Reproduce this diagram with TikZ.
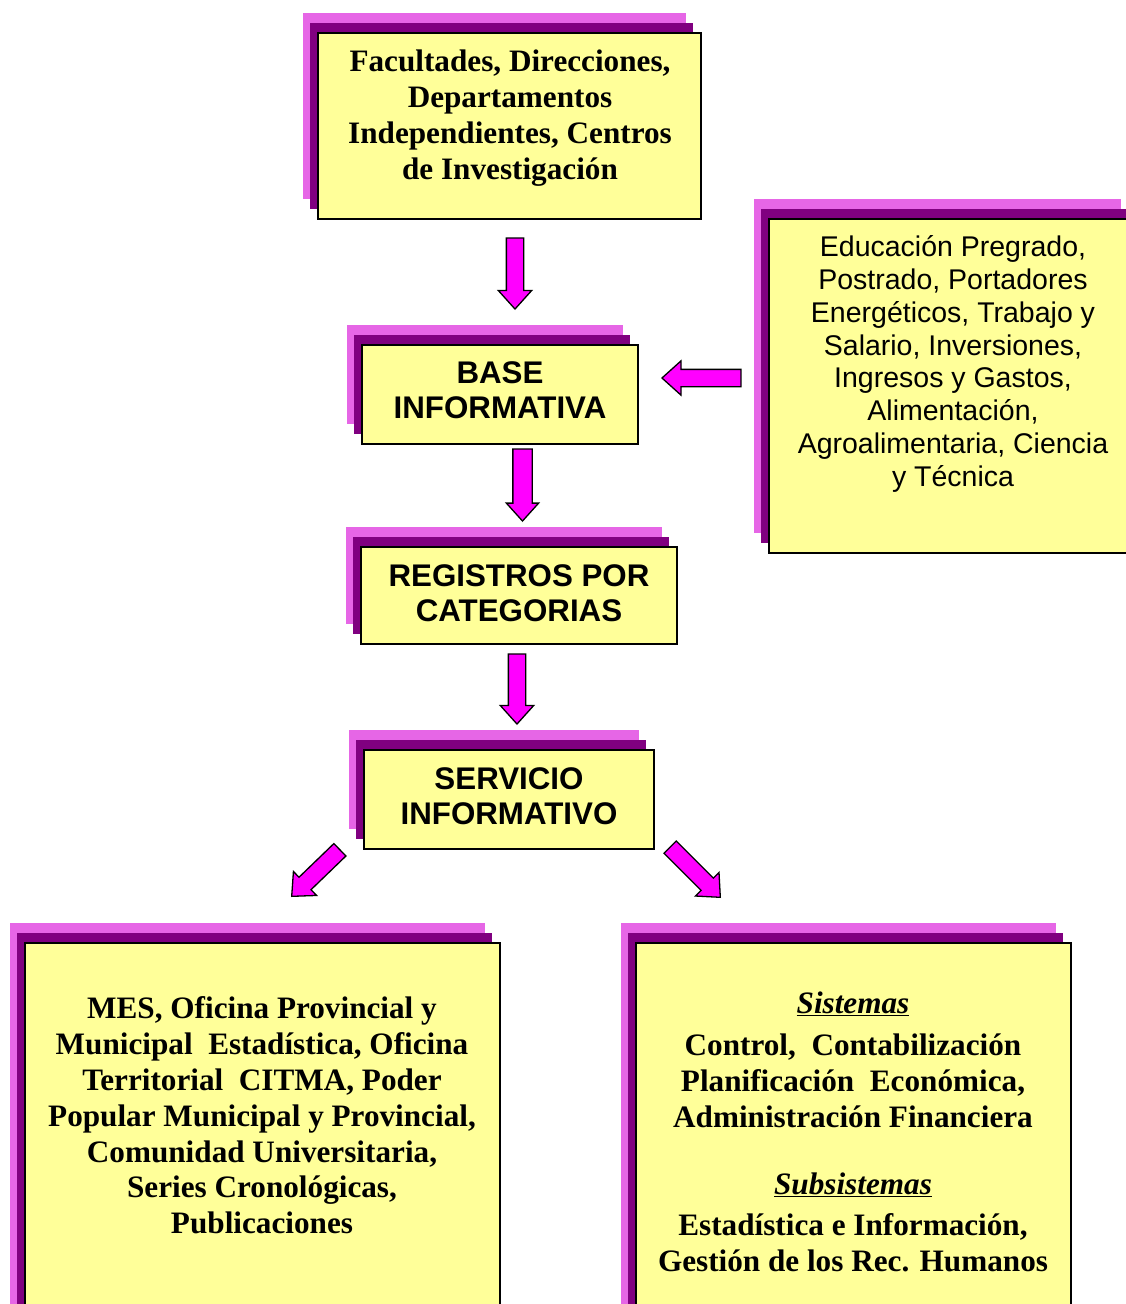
\documentclass[tikz,border=0pt]{standalone}
\usepackage{fontspec}
\setmainfont{Liberation Serif}
\setsansfont{Liberation Sans}
\usetikzlibrary{shapes.arrows,shadows}
\definecolor{lightmag}{RGB}{230,102,230}
\definecolor{darkpur}{RGB}{128,0,128}
\definecolor{boxyellow}{RGB}{255,255,153}
\definecolor{arrowmag}{RGB}{255,0,255}
\begin{document}
\begin{tikzpicture}[x=1pt,y=-1pt,
  mainbox/.style={rectangle, draw=black, line width=1.6pt, fill=boxyellow, inner sep=0pt,
    general shadow={fill=lightmag, draw=none, shadow xshift=-15pt, shadow yshift=20pt},
    general shadow={fill=darkpur, draw=none, shadow xshift=-8pt, shadow yshift=10pt}},
  serifbold/.style={align=center, font=\fontsize{31.2}{35.8}\selectfont\bfseries, inner sep=0pt},
  sansbold/.style={align=center, font=\fontsize{31.3}{35}\selectfont\sffamily\bfseries, inner sep=0pt},
  sansreg/.style={align=center, font=\fontsize{28.5}{32.9}\selectfont\sffamily, inner sep=0pt},
  blockarrow/.style={single arrow, draw=black, line width=1.3pt, fill=arrowmag,
    inner xsep=0pt, inner ysep=8pt, text height=0pt, text depth=0pt,
    single arrow head extend=8pt, single arrow tip angle=84, anchor=tip}
]
\useasboundingbox (0,0) rectangle (1126,1304);
\clip (0,0) rectangle (1126,1304);

% boxes
\node[mainbox, minimum width=383pt, minimum height=186pt] (top) at (509.5,126) {};
\node[mainbox, minimum width=367pt, minimum height=334pt] (right) at (952.5,386) {};
\node[mainbox, minimum width=276pt, minimum height=99pt] (base) at (500,394.5) {};
\node[mainbox, minimum width=316pt, minimum height=97pt] (reg) at (519,595.5) {};
\node[mainbox, minimum width=290pt, minimum height=99pt] (serv) at (509,799.5) {};
\node[mainbox, minimum width=475pt, minimum height=387pt] (bl) at (262.5,1136.5) {};
\node[mainbox, minimum width=435pt, minimum height=387pt] (br) at (853.5,1136.5) {};

% texts
\node[serifbold] (toptext) at (510,118) {Facultades, Direcciones,\\Departamentos\\Independientes, Centros\\de Investigación};
\node[sansreg] (righttext) at (953,364) {Educación Pregrado,\\Postrado, Portadores\\Energéticos, Trabajo y\\Salario, Inversiones,\\Ingresos y Gastos,\\Alimentación,\\Agroalimentaria, Ciencia\\y Técnica};
\node[sansbold] (basetext) at (500,390.5) {BASE\\INFORMATIVA};
\node[sansbold] (regtext) at (519,593.5) {REGISTROS POR\\CATEGORIAS};
\node[sansbold] (servtext) at (509,796.5) {SERVICIO\\INFORMATIVO};
\node[serifbold] (bltext) at (262,1115.5) {MES, Oficina Provincial y\\Municipal\ \ Estadística, Oficina\\Territorial\ \ CITMA, Poder\\Popular Municipal y Provincial,\\Comunidad Universitaria,\\Series Cronológicas,\\Publicaciones};
\node[serifbold] (brtext) at (853,1132) {\underline{\itshape Sistemas}\\[6pt]Control,\ \ Contabilización\\Planificación\ \ Económica,\\Administración Financiera\\[32pt]\underline{\itshape Subsistemas}\\[5pt]Estadística e Información,\\Gestión de los Rec. Humanos};

% block arrows (placed by their tips)
\node[blockarrow, minimum height=71pt, rotate=-90] (a1) at (515,310) {};
\node[blockarrow, minimum height=72pt, inner ysep=9pt, single arrow head extend=6.5pt, rotate=-90] (a2) at (522.5,522) {};
\node[blockarrow, minimum height=70pt, rotate=-90] (a3) at (517,725) {};
\node[blockarrow, minimum height=79pt, single arrow head extend=8.5pt, rotate=180] (a4) at (661,378) {};
\node[blockarrow, minimum height=67pt, rotate=-136] (a5) at (291,897) {};
\node[blockarrow, minimum height=71pt, rotate=-45] (a6) at (721,898) {};
\end{tikzpicture}
\end{document}
